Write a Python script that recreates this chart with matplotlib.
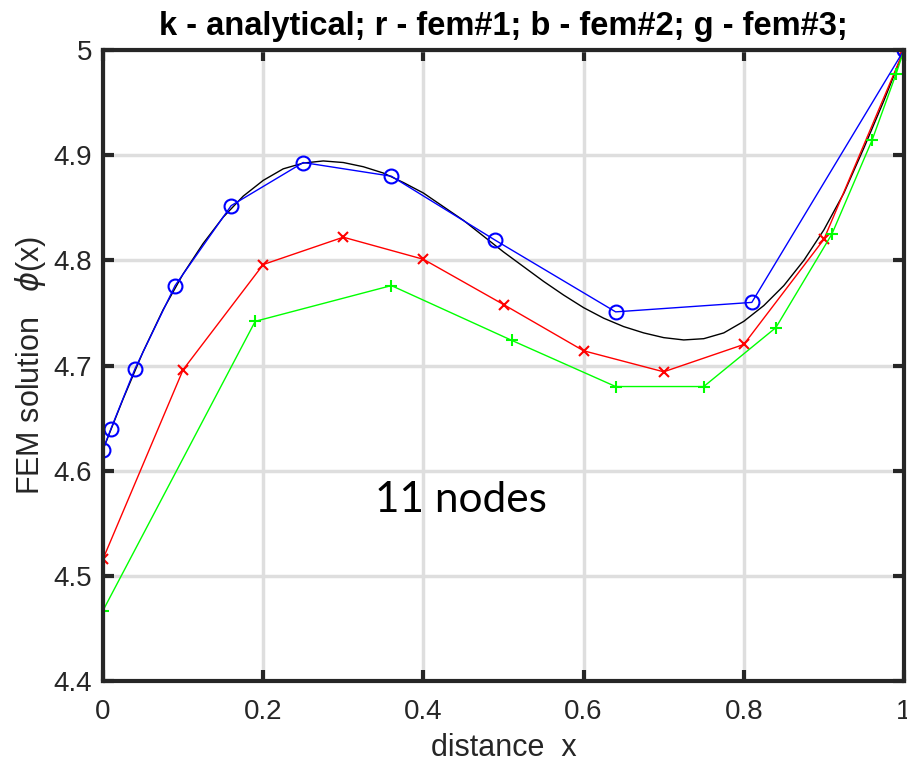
import numpy as np
import matplotlib.pyplot as plt

# analytical solution
x_exact = [0.000, 0.025, 0.050, 0.075, 0.100, 0.125, 0.150, 0.175, 0.200,
           0.225, 0.250, 0.275, 0.300, 0.325, 0.350, 0.375, 0.400, 0.425,
           0.450, 0.475, 0.500, 0.525, 0.550, 0.575, 0.600, 0.625, 0.650,
           0.675, 0.700, 0.725, 0.750, 0.775, 0.800, 0.825, 0.850, 0.875,
           0.900, 0.925, 0.950, 0.975, 1.000]
phi_exact = [4.620, 4.668, 4.713, 4.753, 4.787, 4.816, 4.841, 4.861, 4.876,
             4.887, 4.8925, 4.8945, 4.893, 4.889, 4.883, 4.874, 4.864, 4.851,
             4.838, 4.823, 4.808, 4.794, 4.780, 4.767, 4.755, 4.745, 4.737,
             4.731, 4.7265, 4.7243, 4.7255, 4.731, 4.742, 4.757, 4.776, 4.800,
             4.829, 4.864, 4.907, 4.952, 5.000]

# fem#1 (red, uniform nodes)
x_fem1 = [0.0, 0.1, 0.2, 0.3, 0.4, 0.5, 0.6, 0.7, 0.8, 0.9, 1.0]
phi_fem1 = [4.516, 4.696, 4.796, 4.822, 4.801, 4.758, 4.714, 4.694, 4.720,
            4.820, 5.000]

# fem#2 (blue, nodes clustered at x=0)
x_fem2 = [0.0, 0.01, 0.04, 0.09, 0.16, 0.25, 0.36, 0.49, 0.64, 0.81, 1.0]
phi_fem2 = [4.620, 4.640, 4.697, 4.776, 4.852, 4.893, 4.880, 4.819, 4.751,
            4.760, 5.000]

# fem#3 (green, nodes clustered at x=1)
x_fem3 = [0.0, 0.19, 0.36, 0.51, 0.64, 0.75, 0.84, 0.91, 0.96, 0.99, 1.0]
phi_fem3 = [4.467, 4.742, 4.776, 4.724, 4.680, 4.680, 4.736, 4.825, 4.914,
            4.977, 5.000]

plt.rcParams['font.family'] = ['Liberation Sans', 'DejaVu Sans']

fig = plt.figure(figsize=(9.07, 7.67), dpi=100)
ax = fig.add_axes([103/907, 1 - 681/767, 801/907, 631/767])

ax.plot(x_exact, phi_exact, color='k', lw=1.0)
ax.plot(x_fem1, phi_fem1, color='r', lw=1.0, marker='x', ms=7, mew=1.5)
ax.plot(x_fem2, phi_fem2, color='b', lw=1.0, marker='o', ms=10, mew=1.5,
        mfc='none')
ax.plot(x_fem3, phi_fem3, color='#00ff00', lw=1.0, marker='+', ms=9, mew=1.5)

ax.set_xlim(0, 1)
ax.set_ylim(4.4, 5.0)
ax.set_xticks([0, 0.2, 0.4, 0.6, 0.8, 1])
ax.set_xticklabels(['0', '0.2', '0.4', '0.6', '0.8', '1'])
ax.set_yticks([4.4, 4.5, 4.6, 4.7, 4.8, 4.9, 5])
ax.set_yticklabels(['4.4', '4.5', '4.6', '4.7', '4.8', '4.9', '5'])

ax.grid(True, color='#dedede', lw=2.5)
ax.set_axisbelow(True)
for s in ax.spines.values():
    s.set_linewidth(3)
    s.set_color('#262626')
ax.tick_params(direction='in', length=8, width=3, color='#262626',
               top=True, right=True, labelsize=20, labelcolor='#262626')
ax.tick_params(axis='x', pad=13)
ax.tick_params(axis='y', pad=8)

ax.set_xlabel('distance  x', fontsize=22, color='#262626', labelpad=6)
ax.set_ylabel(r'FEM solution   $\phi$(x)', fontsize=22, color='#262626',
              labelpad=4)
ax.set_title('k - analytical; r - fem#1; b - fem#2; g - fem#3;',
             fontsize=23.5, fontweight='bold', pad=11)

ax.text(0.34, 4.561, '11 nodes', fontsize=30.5, family='Lato')

fig.savefig('out.png', dpi=100)
